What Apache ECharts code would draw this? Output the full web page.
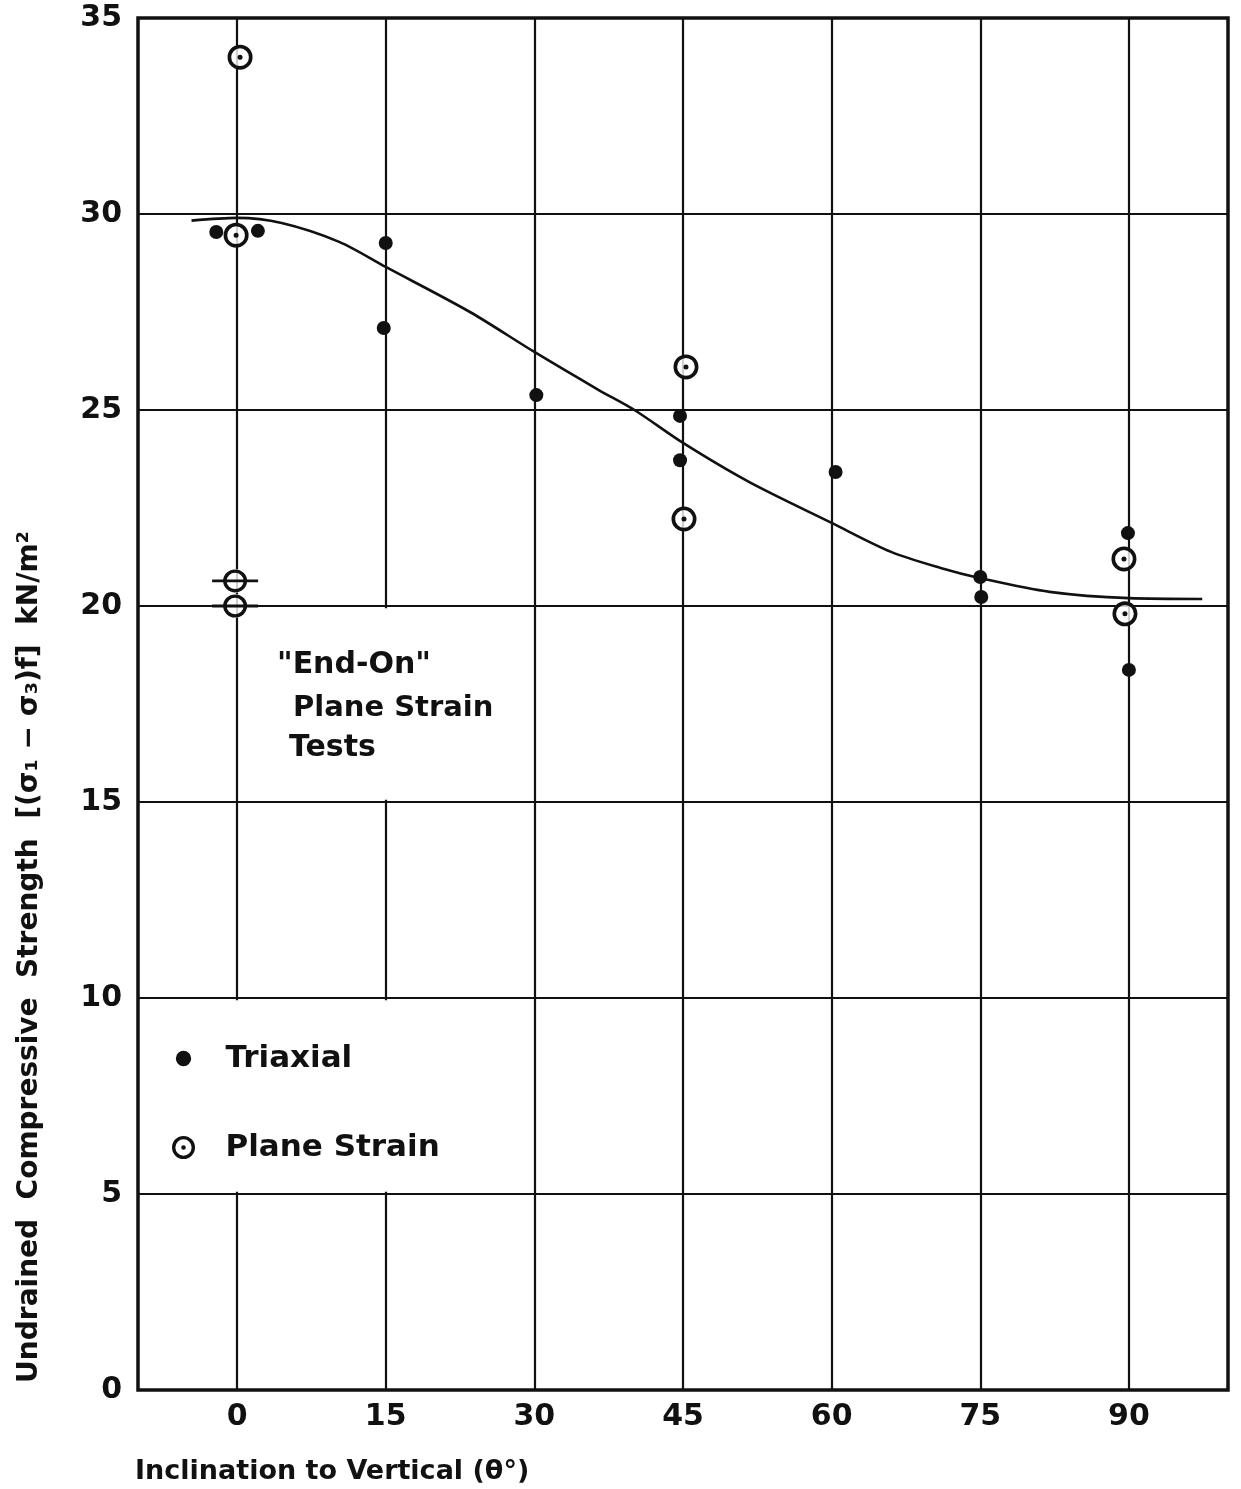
<!DOCTYPE html>
<html>
<head>
<meta charset="utf-8">
<script src="https://cdn.jsdelivr.net/npm/echarts@6/dist/echarts.min.js"></script>
<style>
  html, body { margin: 0; background: #fff; }
  #chart { width: 1241px; height: 1489px; }
</style>
</head>
<body>
<div id="chart"></div>
<script>
// values
const triaxialX = [-2.1, 2.1, 15.0, 14.8, 30.2, 44.7, 44.7, 60.4, 75.0, 75.1, 89.9, 90.0];
const triaxialY = [29.54, 29.57, 29.26, 27.09, 25.38, 24.85, 23.72, 23.42, 20.74, 20.23, 21.86, 18.37];

const planeX = [0.3, -0.1, 45.3, 45.1, 89.5, 89.6];
const planeY = [34.0, 29.46, 26.1, 22.22, 21.2, 19.8];

// "End-On" plane strain tests (circles with a bar through them)
const endOnX = [-0.2, -0.2];
const endOnY = [20.64, 20.0];

// hand-drawn trend curve
const curveX = [-4.6, 0, 4.5, 10.3, 15, 23.5, 30, 36.5, 40.1, 45, 51.7, 60, 66, 71, 75, 82, 90, 97.4];
const curveY = [29.83, 29.9, 29.77, 29.29, 28.65, 27.5, 26.48, 25.51, 25.0, 24.16, 23.16, 22.12, 21.38, 20.97, 20.71, 20.36, 20.2, 20.18];

const xTicks = [0, 15, 30, 45, 60, 75, 90];

const font = 'DejaVu Sans';
const ink = '#111';

const ringDot = 'path://M12,0 A12,12 0 1,1 12,24 A12,12 0 1,1 12,0 Z ' +
  'M12,3.5 A8.5,8.5 0 1,0 12,20.5 A8.5,8.5 0 1,0 12,3.5 Z ' +
  'M12,9.6 A2.4,2.4 0 1,1 12,14.4 A2.4,2.4 0 1,1 12,9.6 Z';
const ringBar = 'path://M23,0 A12,12 0 1,1 23,24 A12,12 0 1,1 23,0 Z ' +
  'M23,3.5 A8.5,8.5 0 1,0 23,20.5 A8.5,8.5 0 1,0 23,3.5 Z ' +
  'M0,10.5 L46,10.5 L46,13.5 L0,13.5 Z';
const dotIcon = 'path://M0,0 L0,0 M24,24 L24,24 M12,4 A8,8 0 1,1 12,20 A8,8 0 1,1 12,4 Z';

const zip = (xs, ys) => xs.map((x, i) => [x, ys[i]]);

const myChart = echarts.init(document.getElementById('chart'));

const textEl = (x, y, text, size) => ({
  type: 'text', x: x, y: y, z: 20,
  style: { text: text, font: 'bold ' + size + 'px "DejaVu Sans"', fill: ink, textVerticalAlign: 'middle' }
});

const option = {
  animation: false,
  grid: {
    left: 138, right: 13, top: 18, bottom: 99,
    show: true, borderColor: ink, borderWidth: 3.5
  },
  legend: {
    orient: 'vertical',
    left: 167,
    top: 1038,
    itemGap: 58,
    itemWidth: 74,
    itemHeight: 23,
    textStyle: { fontFamily: font, fontSize: 31, fontWeight: 'bold', color: ink },
    data: [
      { name: 'Triaxial', icon: dotIcon },
      { name: 'Plane Strain', icon: ringDot }
    ]
  },
  xAxis: {
    type: 'value',
    min: -10,
    max: 100,
    axisLine: { show: false },
    axisTick: { show: false, customValues: xTicks },
    axisLabel: { customValues: xTicks, fontFamily: font, fontSize: 30, fontWeight: 'bold', color: ink, margin: 12 },
    splitLine: { show: true, lineStyle: { color: ink, width: 2.2 } }
  },
  yAxis: {
    type: 'value',
    min: 0,
    max: 35,
    interval: 5,
    axisLine: { show: false },
    axisTick: { show: false },
    axisLabel: { fontFamily: font, fontSize: 30, fontWeight: 'bold', color: ink, margin: 16 },
    splitLine: { show: true, lineStyle: { color: ink, width: 2.2 } }
  },
  graphic: {
    elements: [
      textEl(135, 1472, 'Inclination to Vertical (θ°)', 27),
      {
        type: 'text', x: 30, y: 957, rotation: Math.PI / 2, z: 20,
        style: {
          text: 'Undrained  Compressive  Strength  [(σ₁ − σ₃)f]  kN/m²',
          font: 'bold 28px "DejaVu Sans"', fill: ink, textAlign: 'center', textVerticalAlign: 'middle'
        }
      },
      textEl(277, 665, '"End-On"', 30),
      textEl(293, 708, 'Plane Strain', 29),
      textEl(289, 748, 'Tests', 30)
    ]
  },
  series: [
    {
      name: 'curve',
      type: 'line',
      smooth: 0.3,
      symbol: 'none',
      silent: true,
      z: 2,
      lineStyle: { color: ink, width: 2.6 },
      data: zip(curveX, curveY),
      // white panels that break the grid behind the notes and the key
      markArea: {
        silent: true,
        itemStyle: { color: '#fff', opacity: 1 },
        data: [
          [{ coord: [-9.8, 9.94] }, { coord: [25, 5.06] }],
          [{ coord: [2, 19.94] }, { coord: [28, 15.06] }]
        ]
      }
    },
    {
      name: 'blank',
      type: 'scatter',
      symbol: 'circle',
      symbolSize: 24,
      silent: true,
      z: 3,
      itemStyle: { color: '#fff' },
      data: zip(planeX.concat(endOnX), planeY.concat(endOnY))
    },
    {
      name: 'Triaxial',
      type: 'scatter',
      symbol: 'circle',
      symbolSize: 14,
      z: 4,
      itemStyle: { color: ink, opacity: 1 },
      data: zip(triaxialX, triaxialY)
    },
    {
      name: 'Plane Strain',
      type: 'scatter',
      symbol: ringDot,
      symbolSize: 25,
      z: 4,
      itemStyle: { color: ink, opacity: 1 },
      data: zip(planeX, planeY)
    },
    {
      name: 'End-On',
      type: 'scatter',
      symbol: ringBar,
      symbolSize: [46, 23],
      z: 4,
      itemStyle: { color: ink, opacity: 1 },
      data: zip(endOnX, endOnY)
    }
  ]
};

option && myChart.setOption(option);
</script>
</body>
</html>
